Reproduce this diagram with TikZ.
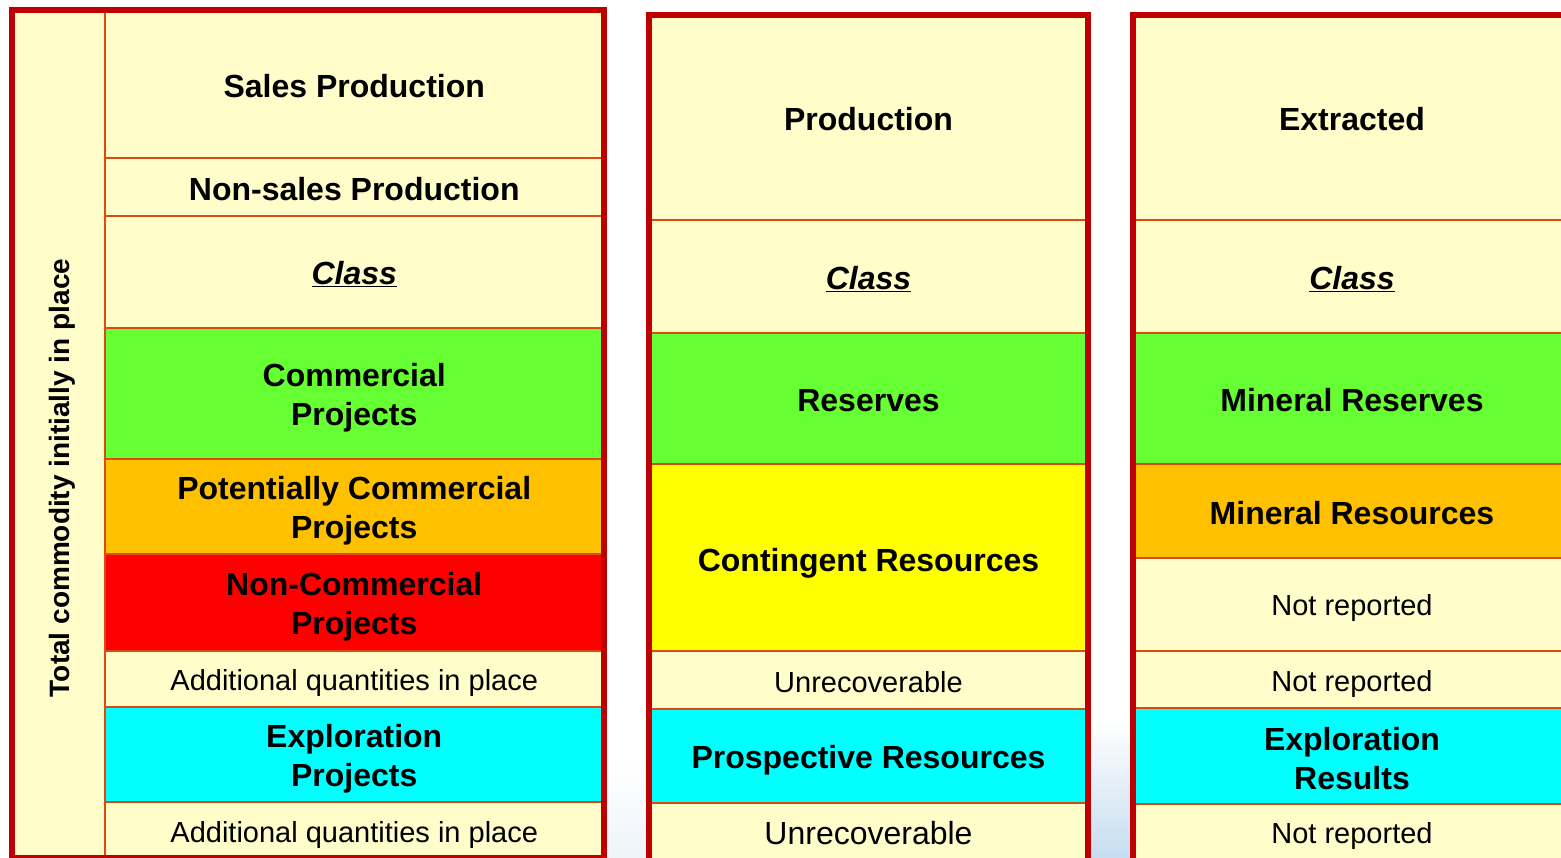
\documentclass[tikz,border=0pt]{standalone}
\usepackage{fontspec}
\setmainfont{Liberation Sans}
\definecolor{cream}{HTML}{FFFDCA}
\definecolor{framered}{HTML}{C00000}
\definecolor{sepline}{HTML}{DC4A10}
\definecolor{cgreen}{HTML}{66FF33}
\definecolor{corange}{HTML}{FFC000}
\definecolor{cred}{HTML}{FF0000}
\definecolor{cyellow}{HTML}{FFFF00}
\definecolor{ccyan}{HTML}{00FFFF}
\definecolor{glow}{HTML}{C6DDF0}
\definecolor{glowfaint}{HTML}{EEF4FA}
\tikzset{
  cell/.style={rectangle, draw=sepline, line width=2pt, fill=cream, inner sep=0pt,
    outer sep=0pt, anchor=north west},
  bold/.style={align=center, text=black, inner sep=0pt,
    font=\fontsize{32}{39}\selectfont\bfseries},
  plain/.style={align=center, text=black, inner sep=0pt,
    font=\fontsize{29}{35}\selectfont},
  plainbig/.style={align=center, text=black, inner sep=0pt,
    font=\fontsize{32}{39}\selectfont},
  panelframe/.style={rectangle, draw=framered, line width=6pt, inner sep=0pt,
    outer sep=0pt, anchor=north west}
}
% #1 name, #2 top-left "x,y", #3 width, #4 height, #5 fill, #6 text style, #7 text shift, #8 text
\newcommand\cellbox[8]{%
  \node[cell, fill=#5, minimum width=#3, minimum height=#4] (#1) at (#2) {};
  \node[#6] (#1t) at ([yshift=-#7pt]#1.center) {#8};}
\newcommand\classlabel{\underline{\textit{Class}}}
\begin{document}
\begin{tikzpicture}[x=1pt,y=-1pt]
\useasboundingbox (0,0) rectangle (1561,858);
\clip (0,0) rectangle (1561,858);
\fill[white] (0,0) rectangle (1561,858);
\shade[top color=white, bottom color=glow] (1091,720) rectangle (1131,858);
\shade[top color=white, bottom color=glowfaint] (607,760) rectangle (647,858);

% ---------- Panel 1 ----------
\node[cell, minimum width=92.5, minimum height=847.5] (p1left) at (12,10.5) {};
\node[rotate=90, inner sep=0pt, font=\fontsize{28}{34}\selectfont\bfseries] (p1label) at (62,478) {Total commodity initially in place};
\cellbox{p1sales}{104.5,10.5}{499.5}{148}{cream}{bold}{2}{Sales Production}
\cellbox{p1nonsales}{104.5,158.5}{499.5}{57.5}{cream}{bold}{2}{Non-sales Production}
\cellbox{p1class}{104.5,216}{499.5}{112}{cream}{bold}{2}{\classlabel}
\cellbox{p1comm}{104.5,328}{499.5}{131}{cgreen}{bold}{4}{Commercial\\Projects}
\cellbox{p1pot}{104.5,459}{499.5}{95}{corange}{bold}{4}{Potentially Commercial\\Projects}
\cellbox{p1noncomm}{104.5,554}{499.5}{97}{cred}{bold}{4}{Non-Commercial\\Projects}
\cellbox{p1addA}{104.5,651}{499.5}{56}{cream}{plain}{4}{Additional quantities in place}
\cellbox{p1expl}{104.5,707}{499.5}{95}{ccyan}{bold}{4}{Exploration\\Projects}
\cellbox{p1addB}{104.5,802}{499.5}{60}{cream}{plain}{3}{Additional quantities in place}
\node[panelframe, minimum width=592, minimum height=847.5] (p1frame) at (12,10.5) {};

% ---------- Panel 2 ----------
\cellbox{p2prod}{649,15}{439}{205}{cream}{bold}{2}{Production}
\cellbox{p2class}{649,220}{439}{113}{cream}{bold}{3}{\classlabel}
\cellbox{p2res}{649,333}{439}{131}{cgreen}{bold}{2}{Reserves}
\cellbox{p2cont}{649,464}{439}{187}{cyellow}{bold}{6}{Contingent Resources}
\cellbox{p2unrecA}{649,651}{439}{58}{cream}{plain}{2}{Unrecoverable}
\cellbox{p2prosp}{649,709}{439}{94}{ccyan}{bold}{4}{Prospective Resources}
\cellbox{p2unrecB}{649,803}{439}{60}{cream}{plainbig}{0}{Unrecoverable}
\node[panelframe, minimum width=439, minimum height=870] (p2frame) at (649,15) {};

% ---------- Panel 3 ----------
\cellbox{p3extr}{1133,15}{438}{205}{cream}{bold}{2}{Extracted}
\cellbox{p3class}{1133,220}{438}{113}{cream}{bold}{3}{\classlabel}
\cellbox{p3minres}{1133,333}{438}{131}{cgreen}{bold}{2}{Mineral Reserves}
\cellbox{p3minresc}{1133,464}{438}{94}{corange}{bold}{2}{Mineral Resources}
\cellbox{p3nrA}{1133,558}{438}{93}{cream}{plain}{4}{Not reported}
\cellbox{p3nrB}{1133,651}{438}{57}{cream}{plain}{4}{Not reported}
\cellbox{p3expl}{1133,708}{438}{96}{ccyan}{bold}{3}{Exploration\\Results}
\cellbox{p3nrC}{1133,804}{438}{58}{cream}{plain}{3}{Not reported}
\node[panelframe, minimum width=438, minimum height=870] (p3frame) at (1133,15) {};
\end{tikzpicture}
\end{document}
